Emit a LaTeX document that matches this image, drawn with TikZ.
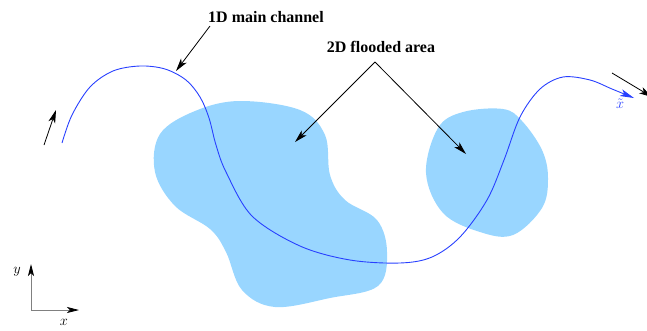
\documentclass[tikz,border=0pt]{standalone}
\usepackage{fontspec}
\setmainfont{Liberation Serif}
\usetikzlibrary{arrows.meta}
\definecolor{flood}{RGB}{153,214,255}
\definecolor{chan}{RGB}{40,64,255}
\tikzset{
  lbl/.style={font=\fontsize{16}{18}\selectfont\bfseries, inner sep=0pt},
  pointer/.style={draw=black, line width=0.8pt, -{Stealth[length=13pt,width=7pt,inset=3.5pt]}},
  axis/.style={draw=gray, line width=0.8pt, -{Stealth[black,length=12pt,width=6pt,inset=3pt]}},
  blob/.style={fill=flood, draw=none},
}
\begin{document}
\begin{tikzpicture}[x=1pt,y=-1pt]
\useasboundingbox (0,0) rectangle (647,330);
% flooded areas
\fill[blob] plot[smooth cycle, tension=0.6] coordinates {
  (240,101) (300,110) (325,135) (330,175) (345,200) (377,220) (387,252)
  (378,286) (330,298) (275,307) (242,290) (226,252) (210,229) (175,206)
  (155,172) (160,134) (195,111)};
\fill[blob] plot[smooth cycle, tension=0.6] coordinates {
  (503,109) (522,121) (542,150) (548,178) (542,208) (513,235) (480,232)
  (443,213) (426,173) (438,128) (463,112)};
% main channel
\draw[chan, line width=0.9pt, -{Stealth[length=14pt,width=7pt,inset=3.5pt]}]
  plot[smooth, tension=0.55] coordinates {
  (62,143) (72,115) (90,87) (113,71) (140,66) (165,69) (186,80) (200,97)
  (209,118) (216,145) (226,172) (252,216) (300,246) (350,260) (400,263)
  (432,257) (460,237) (487,200) (504,160) (520,117) (540,89) (563,77)
  (590,80) (612,89) (634,98)};
\node[text=chan, font=\fontsize{14}{16}\selectfont] (xt) at (620,104) {$\tilde{x}$};
% labels and pointers
\node[lbl] (main) at (266,17) {1D main channel};
\coordinate (mtip) at (176,71);
\draw[pointer] (210,26) -- (mtip);
\node[lbl] (flood) at (381,47) {2D flooded area};
\coordinate (fsrc) at (375,62);
\coordinate (ftip1) at (295,142);
\coordinate (ftip2) at (466,154);
\draw[pointer] (fsrc) -- (ftip1);
\draw[pointer] (fsrc) -- (ftip2);
% flow arrows
\coordinate (a1) at (44,145);
\coordinate (a2) at (56,110);
\draw[pointer] (a1) -- (a2);
\coordinate (b1) at (612,73);
\coordinate (b2) at (652,97);
\draw[pointer] (b1) -- (b2);
% axes
\coordinate (o) at (31,310);
\coordinate (yend) at (31,264);
\coordinate (xend) at (79,310);
\draw[axis] (o) -- (yend);
\draw[axis] (o) -- (xend);
\node[font=\fontsize{14}{16}\selectfont] (ylab) at (17,272) {$y$};
\node[font=\fontsize{14}{16}\selectfont] (xlab) at (64,322) {$x$};
\end{tikzpicture}
\end{document}
